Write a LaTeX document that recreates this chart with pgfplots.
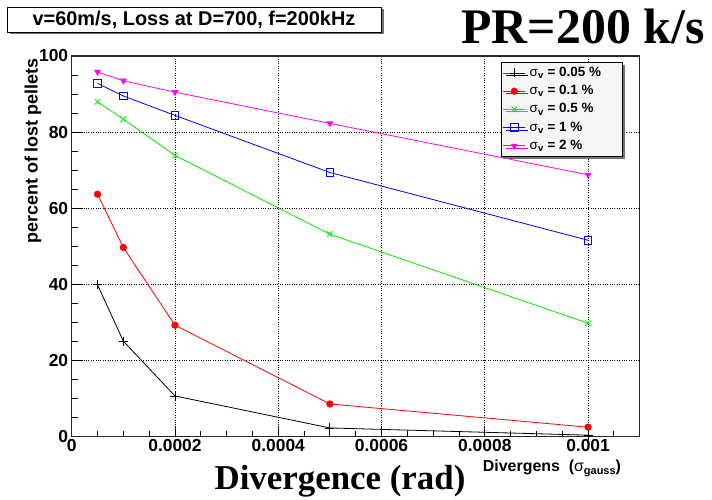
\documentclass[border=0pt]{standalone}
\usepackage{pgfplots}
\pgfplotsset{compat=1.18}
\usepackage{fontspec}
\setmainfont{Liberation Sans}
\newfontfamily\timesfont{Liberation Serif}
\usetikzlibrary{shadows}
\definecolor{rgreen}{RGB}{0,235,0}
\definecolor{rmag}{RGB}{255,0,255}
\newcommand{\legtxt}[1]{\hspace{3.5bp}\makebox[90bp][l]{#1}}
\begin{document}
\begin{tikzpicture}
\path[use as bounding box] (0bp,0bp) rectangle (712bp,500bp);
% title box
\fill[black!55] (9.5bp,465.5bp) rectangle (383.5bp,490.5bp);
\draw[fill=white, line width=0.8bp] (7bp,468bp) rectangle (381bp,493bp);
\node[font=\fontsize{20}{24}\selectfont\bfseries] at (194bp,480.5bp) {v=60m/s, Loss at D=700, f=200kHz};
\node[font=\fontsize{50}{58}\selectfont\timesfont\bfseries] at (583bp,474bp) {PR=200 k/s};
\node[rotate=90, font=\fontsize{18}{22}\selectfont\bfseries] at (33bp,349bp) {percent of lost pellets};
\node[anchor=base, font=\fontsize{35}{40}\selectfont\timesfont\bfseries] at (340bp,11bp) {Divergence (rad)};
\node[anchor=base west, inner sep=0pt, font=\fontsize{16}{20}\selectfont\bfseries] at (482.7bp,28.3bp) {Divergens\ \ ({\mdseries σ}\raisebox{-0.35ex}{\fontsize{11}{12}\selectfont gauss})};
\begin{axis}[
  at={(71.7bp,63.3bp)}, anchor=south west, scale only axis,
  width=568bp, height=380.7bp,
  xmin=0, xmax=0.0011, ymin=0, ymax=100,
  xtick={0,0.0002,0.0004,0.0006,0.0008,0.001},
  xticklabels={0,0.0002,0.0004,0.0006,0.0008,0.001},
  minor xtick={0.00005,0.0001,0.00015,0.00025,0.0003,0.00035,0.00045,0.0005,0.00055,0.00065,0.0007,0.00075,0.00085,0.0009,0.00095,0.00105},
  ytick={0,20,40,60,80,100},
  minor ytick={5,10,15,25,30,35,45,50,55,65,70,75,85,90,95},
  scaled x ticks=false,
  tick align=inside, xtick pos=bottom, ytick pos=left,
  grid=major, major grid style={dotted, black, line width=0.6bp},
  axis line style={line width=1.2bp, black!85},
  major tick length=11bp, minor tick length=6bp,
  every tick/.style={black, line width=0.8bp},
  /pgf/number format/assume math mode=true,
  ticklabel style={font=\fontsize{17.5}{20}\selectfont\bfseries},
  xticklabel style={yshift=1bp},
  legend cell align=left,
  legend style={at={(0.755,0.984)}, anchor=north west, draw=black, line width=0.8bp, fill=black!4,
    font=\fontsize{13.5}{16}\selectfont\bfseries,
    drop shadow={shadow xshift=2.5bp, shadow yshift=-2.5bp, fill=black!55, opacity=1},
    row sep=4.2bp, inner xsep=2bp, inner ysep=3.5bp,
    nodes={inner sep=0.5bp, text height=10bp, text depth=3bp}},
  legend image code/.code={\draw[mark repeat=2,mark phase=2] plot coordinates {(0bp,0bp)(11bp,0bp)(22bp,0bp)};},
]
\addplot[black, line width=0.8bp, mark=+, mark size=4.5bp, mark options={line width=0.8bp}] coordinates {
 (0.00005,39.9) (0.0001,25.1) (0.0002,10.7) (0.0005,2.3) (0.001,0.4)};
\addlegendentry{\legtxt{{\mdseries σ}\textsubscript{v} = 0.05 \%}}
\addplot[red, line width=0.8bp, mark=*, mark size=3.2bp] coordinates {
 (0.00005,63.7) (0.0001,49.7) (0.0002,29.3) (0.0005,8.6) (0.001,2.5)};
\addlegendentry{\legtxt{{\mdseries σ}\textsubscript{v} = 0.1 \%}}
\addplot[rgreen, line width=0.8bp, mark=x, mark size=4bp, mark options={line width=0.8bp}] coordinates {
 (0.00005,88.0) (0.0001,83.4) (0.0002,73.9) (0.0005,53.2) (0.001,29.8)};
\addlegendentry{\legtxt{{\mdseries σ}\textsubscript{v} = 0.5 \%}}
\addplot[blue, line width=0.8bp, mark=square, mark size=3.8bp, mark options={line width=0.9bp}] coordinates {
 (0.00005,92.8) (0.0001,89.5) (0.0002,84.4) (0.0005,69.4) (0.001,51.6)};
\addlegendentry{\legtxt{{\mdseries σ}\textsubscript{v} = 1 \%}}
\addplot[rmag, line width=0.8bp, mark=triangle*, mark size=3.2bp, mark options={rotate=180}] coordinates {
 (0.00005,95.8) (0.0001,93.5) (0.0002,90.5) (0.0005,82.3) (0.001,68.8)};
\addlegendentry{\legtxt{{\mdseries σ}\textsubscript{v} = 2 \%}}
\end{axis}
\end{tikzpicture}
\end{document}
